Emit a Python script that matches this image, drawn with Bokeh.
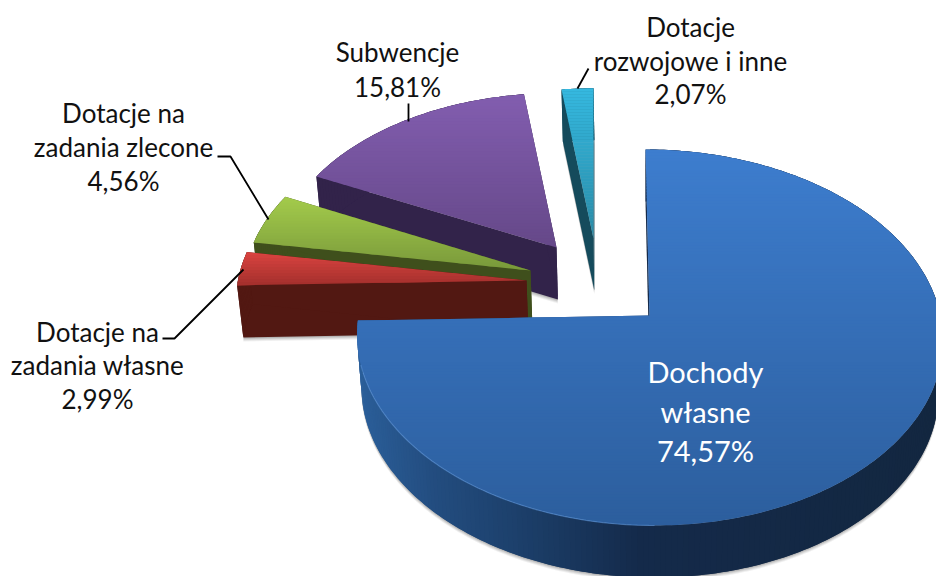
import numpy as np
from bokeh.plotting import figure
from bokeh.models import Range1d, ColumnDataSource
from bokeh.core.properties import value
from bokeh.embed import file_html
from bokeh.resources import INLINE

# ---- data ----
names = ["Dochody własne", "Dotacje na zadania własne", "Dotacje na zadania zlecone",
         "Subwencje", "Dotacje rozwojowe i inne"]
shares = [74.57, 2.99, 4.56, 15.81, 2.07]
label_lines = [["Dochody", "własne"], ["Dotacje na", "zadania własne"],
               ["Dotacje na", "zadania zlecone"], ["Subwencje"], ["Dotacje", "rozwojowe i inne"]]

# ---- layout and style ----
top_colors = [("#3d7dce", "#2c5e9d"), ("#d8433f", "#a02e2b"), ("#a3ca4b", "#78983a"),
              ("#825daf", "#654888"), ("#35b8df", "#288aa6")]
wall_colors = [None, "#521812", "#3f4f1c", "#32234a", "#154b5c"]
blue_wall_stops = [(356, "#2b5f9a"), (430, "#234d80"), (520, "#1c3f6a"), (640, "#142a4a"), (940, "#132740")]
explode = [(0, 0), (-123, -35), (-119, -45), (-93, -68), (-56, -77)]
slice_scale_x = [0.993, 0.985, 0.975, 0.955, 0.94]
slice_scale_y = [1.0, 0.975, 0.965, 0.93, 0.905]
slice_skew = [0.024, 0, 0, 0, 0]
draw_order = [3, 4, 2, 1, 0]
label_centers = [(705, 371), (97, 331), (123, 112.5), (397, 51), (690, 26.5)]
label_steps = [39.5, 33.5, 34, 35, 33.5]
label_sizes = ["29px", "26px", "26px", "26px", "26px"]
leaders = [([577, 588], [88, 68]), ([408, 408], [121, 103]),
           ([217, 230, 268], [156, 156, 219]), ([162, 174, 243], [338, 338, 269])]
CX, CY_ELL, RX, RY, APEX_Y, DEPTH = 649.0, 337.0, 295.0, 188.0, 315.0, 52.0
T = (CY_ELL - APEX_Y) / RY
CONVERGE = 0.015
FONT = "Lato"


def hex2rgb(h):
    return np.array([int(h[i:i + 2], 16) for i in (1, 3, 5)], dtype=float)


def mix(a, b, t):
    c = hex2rgb(a) * (1 - t) + hex2rgb(b) * t
    return "#%02x%02x%02x" % tuple(int(round(v)) for v in c)


def rim(theta_deg, i):
    """Point on the projected pie rim of slice i, placed from its own apex."""
    th = np.radians(theta_deg)
    u, v = np.sin(th), np.cos(th)
    den = 1 + T * v
    vp = (v + T) / den
    up = u * np.sqrt(1 - T * T) / den
    dy = slice_scale_y[i] * (CY_ELL - RY * vp - APEX_Y)
    x = CX + explode[i][0] + slice_scale_x[i] * RX * up + slice_skew[i] * dy
    y = APEX_Y + explode[i][1] + dy
    return x, y


def lower(x, y):
    x = np.asarray(x, dtype=float)
    return x + (CX - x) * CONVERGE, np.asarray(y, dtype=float) + DEPTH


def clip_band(xs, ys, y0, y1):
    pts = list(zip(xs, ys))
    for bound, keep_above in ((y0, True), (y1, False)):
        out = []
        n = len(pts)
        for i in range(n):
            a, b = pts[i], pts[(i + 1) % n]
            ina = a[1] >= bound if keep_above else a[1] <= bound
            inb = b[1] >= bound if keep_above else b[1] <= bound
            if ina:
                out.append(a)
            if ina != inb:
                t = (bound - a[1]) / (b[1] - a[1])
                out.append((a[0] + t * (b[0] - a[0]), bound))
        pts = out
        if not pts:
            return [], []
    return [p[0] for p in pts], [p[1] for p in pts]


def blue_wall_color(x):
    for (x0, c0), (x1, c1) in zip(blue_wall_stops, blue_wall_stops[1:]):
        if x <= x1:
            return mix(c0, c1, max(0.0, (x - x0) / (x1 - x0)))
    return blue_wall_stops[-1][1]


p = figure(width=936, height=576, x_range=Range1d(0, 936), y_range=Range1d(576, 0),
           output_backend="svg", toolbar_location=None, min_border=0,
           background_fill_color="white", border_fill_color="white")
p.axis.visible = False
p.grid.visible = False
p.outline_line_color = None

edges = np.concatenate([[0], np.cumsum(shares)]) / np.sum(shares) * 360.0

for i in draw_order:
    a0, a1 = edges[i], edges[i + 1]
    off = explode[i]
    thetas = np.arange(a0, a1, 1.0).tolist() + [a1]
    rx_, ry_ = zip(*[rim(t, i) for t in thetas])
    ax, ay = CX + off[0], APEX_Y + off[1]
    px = [ax] + list(rx_)
    py = [ay] + list(ry_)
    lx, ly = lower(px, py)

    # soft shadow under the lower face
    for d, alpha in ((4, 0.07), (3, 0.09), (2, 0.11), (1, 0.14)):
        p.patch(list(lx), list(ly + d), fill_color="#303030", fill_alpha=alpha, line_color=None)

    # walls: quads overlap the next one, so no seams show between them
    xs, ys, cs = [], [], []
    n = len(px)
    for j in range(n):
        k = (j + 1) % n
        m = (j + 2) % n if 0 < j < n - 2 else k
        xs.append([px[j], px[k], px[m], lx[m], lx[k], lx[j]])
        ys.append([py[j], py[k], py[m], ly[m], ly[k], ly[j]])
        cs.append(blue_wall_color((px[j] + px[k]) / 2) if i == 0 else wall_colors[i])
    p.patches(xs, ys, fill_color=cs, line_color=None)

    # top face, vertical gradient in bands
    c_top, c_bot = top_colors[i]
    lo, hi = min(py), max(py)
    step = 3.0
    xs, ys, cs = [], [], []
    y = lo
    while y < hi:
        bx, by = clip_band(px, py, y, min(y + step + 0.6, hi))
        if bx:
            xs.append(bx)
            ys.append(by)
            cs.append(mix(c_top, c_bot, (y - lo) / max(hi - lo, 1)))
        y += step
    p.patches(xs, ys, fill_color=cs, line_color=None)

    if i == 0:
        # light rim along the front edge of the big slice
        front = [t for t in thetas if 180 <= t <= 255]
        fx, fy = zip(*[rim(t, i) for t in front])
        p.line(list(fx), list(fy), line_color="#5b93d8", line_width=1.2, line_alpha=0.55)

# leader lines
for lx_, ly_ in leaders:
    p.line(lx_, ly_, line_color="black", line_width=1.8)

# labels
for i in range(len(names)):
    lines = label_lines[i] + [("%.2f%%" % shares[i]).replace(".", ",")]
    cx, cy = label_centers[i]
    src = ColumnDataSource(dict(x=[cx] * len(lines),
                                y=[cy + n * label_steps[i] for n in range(len(lines))],
                                t=lines))
    p.text("x", "y", text="t", source=src, text_align="center", text_baseline="middle",
           text_font=value(FONT), text_font_size=label_sizes[i],
           text_color="white" if i == 0 else "#111111")

open("out.html", "w").write(file_html(p, INLINE))
